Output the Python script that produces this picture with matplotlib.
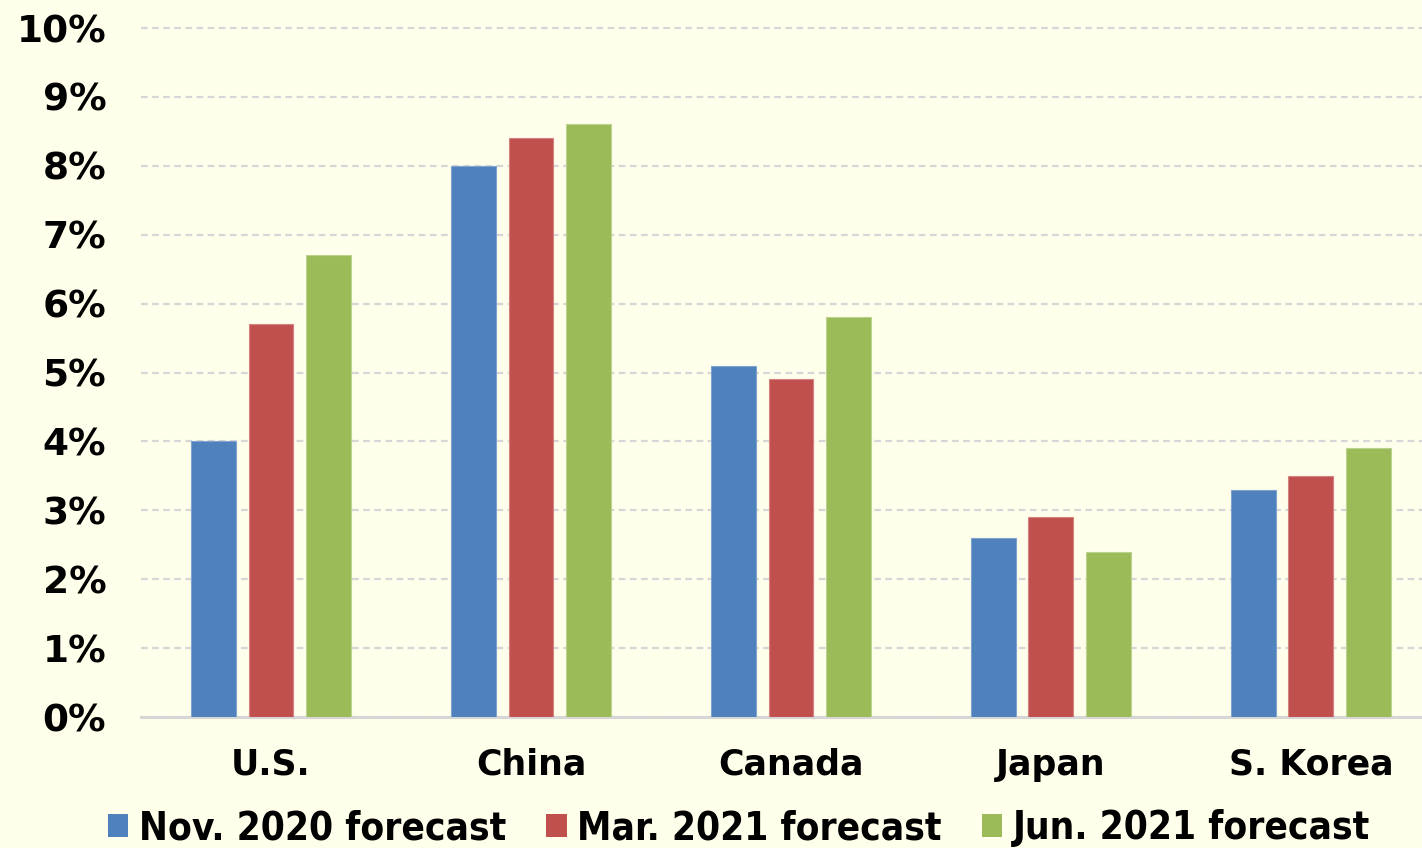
import matplotlib
matplotlib.use("Agg")
import matplotlib.pyplot as plt
from matplotlib.patches import Patch
import numpy as np

countries = ["U.S.", "China", "Canada", "Japan", "S. Korea"]
series_names = ["Nov. 2020 forecast", "Mar. 2021 forecast", "Jun. 2021 forecast"]
nov_2020 = [4.0, 8.0, 5.1, 2.6, 3.3]
mar_2021 = [5.7, 8.4, 4.9, 2.9, 3.5]
jun_2021 = [6.7, 8.6, 5.8, 2.4, 3.9]
yticks = [0, 1, 2, 3, 4, 5, 6, 7, 8, 9, 10]

colors = ["#4F81BD", "#C0504D", "#9BBB59"]
edges = ["#7FA3CF", "#D48380", "#BCD28E"]
bg = "#FFFFEB"

fig = plt.figure(figsize=(14.22, 8.48), dpi=100)
fig.patch.set_facecolor(bg)
ax = fig.add_axes([141 / 1422, 131 / 848, 1281 / 1422, 692.4 / 848])
ax.set_facecolor(bg)

x = np.arange(len(countries))
width = 0.173
offset = 0.221
for i, vals in enumerate([nov_2020, mar_2021, jun_2021]):
    ax.bar(x + (i - 1) * offset, vals, width, color=colors[i],
           edgecolor=edges[i], linewidth=0.8, zorder=3)

ax.set_xlim(-0.5, 4.427)
ax.set_ylim(0, 10.05)
ax.set_yticks(yticks)
ax.set_yticklabels([f"{v}%" for v in yticks])
ax.set_xticks(x)
ax.set_xticklabels(countries)

ax.yaxis.grid(True, color="#D6D6D6", linestyle=(0, (3, 2)), linewidth=1.6, zorder=0)
ax.set_axisbelow(True)
for s in ["top", "right", "left"]:
    ax.spines[s].set_visible(False)
ax.spines["bottom"].set_color("#D6D6D6")
ax.spines["bottom"].set_linewidth(2.2)

ax.tick_params(axis="y", length=0, pad=25, labelsize=27)
ax.tick_params(axis="x", length=0, pad=22, labelsize=25)
for lab in ax.get_xticklabels() + ax.get_yticklabels():
    lab.set_fontweight("bold")
    lab.set_family("DejaVu Sans")

handles = [Patch(facecolor=c, edgecolor="none") for c in colors]
fig.legend(handles, series_names, loc="center", bbox_to_anchor=(739 / 1422, 1 - 828 / 848),
           ncol=3, frameon=False, handlelength=0.52, handleheight=0.52,
           handletextpad=0.27, columnspacing=1.05,
           prop={"family": "DejaVu Sans", "weight": "bold", "size": 27.8, "stretch": "condensed"})

fig.savefig("out.png", dpi=100, facecolor=bg)
